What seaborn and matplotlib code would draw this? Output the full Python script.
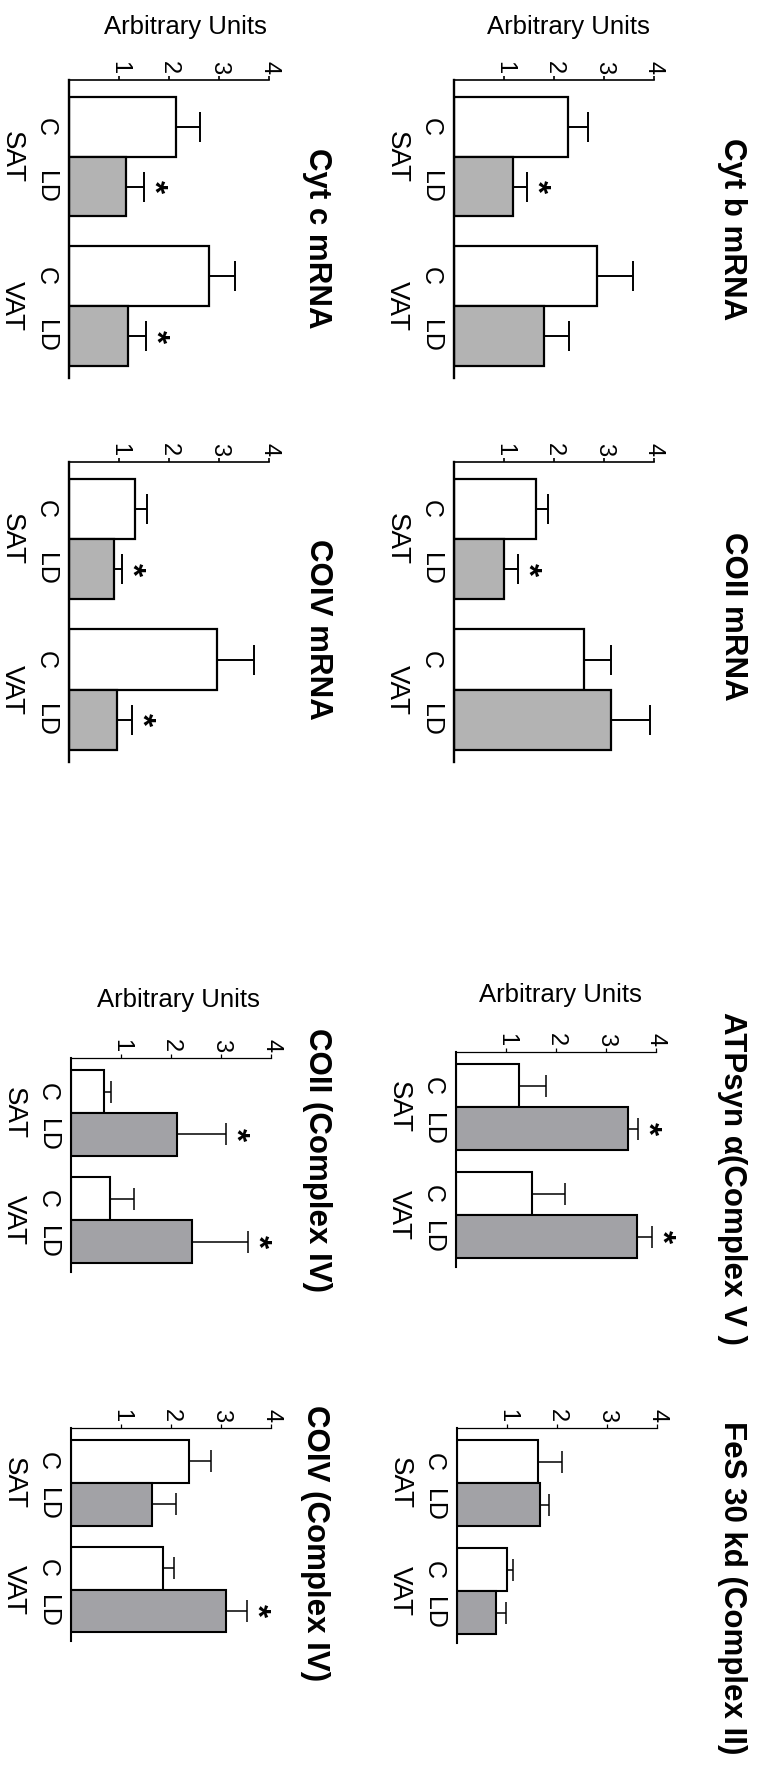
import numpy as np
import pandas as pd
import matplotlib
matplotlib.use("Agg")
import matplotlib.pyplot as plt
import matplotlib.transforms as mtransforms
import seaborn as sns

# ---------------- data ----------------
conditions = ["C", "LD", "C", "LD"]
depots = ["SAT", "VAT"]
tick_values = [1, 2, 3, 4]
tick_labels = ["1", "2", "3", "4"]
ylabel_text = "Arbitrary Units"

cytb_vals = [2.28, 1.17, 2.86, 1.80]
cytb_err = [0.40, 0.29, 0.72, 0.50]
cytb_star = [0, 1, 0, 0]

cytc_vals = [2.14, 1.14, 2.80, 1.18]
cytc_err = [0.48, 0.36, 0.52, 0.36]
cytc_star = [0, 1, 0, 1]

coii_mrna_vals = [1.64, 1.00, 2.60, 3.14]
coii_mrna_err = [0.24, 0.28, 0.54, 0.78]
coii_mrna_star = [0, 1, 0, 0]

coiv_mrna_vals = [1.32, 0.90, 2.96, 0.96]
coiv_mrna_err = [0.24, 0.16, 0.74, 0.30]
coiv_mrna_star = [0, 1, 0, 1]

atp_vals = [1.26, 3.44, 1.52, 3.62]
atp_err = [0.54, 0.20, 0.66, 0.30]
atp_star = [0, 1, 0, 1]

fes_vals = [1.62, 1.66, 1.00, 0.78]
fes_err = [0.48, 0.18, 0.12, 0.20]
fes_star = [0, 0, 0, 0]

coii_prot_vals = [0.66, 2.12, 0.78, 2.42]
coii_prot_err = [0.14, 0.98, 0.48, 1.12]
coii_prot_star = [0, 1, 0, 1]

coiv_prot_vals = [2.36, 1.62, 1.84, 3.10]
coiv_prot_err = [0.44, 0.48, 0.22, 0.42]
coiv_prot_star = [0, 0, 0, 1]

titles = ["Cyt b mRNA", "Cyt c mRNA", "COII mRNA", "COIV mRNA",
          "ATPsyn α(Complex V )", "FeS 30 kd (Complex II)",
          "COII (Complex IV)", "COIV (Complex IV)"]

# ---------------- style ----------------
sns.set_style("ticks")
plt.rcParams["font.family"] = ["Liberation Sans", "DejaVu Sans"]
plt.rcParams["text.color"] = "black"
plt.rcParams["xtick.color"] = "black"
plt.rcParams["ytick.color"] = "black"
plt.rcParams["axes.edgecolor"] = "black"
plt.rcParams["axes.labelcolor"] = "black"

W, H = 760, 1773
fig = plt.figure(figsize=(W / 100, H / 100), dpi=100)
fig.patch.set_facecolor("white")

positions = [0.0, 1.0, 2.5, 3.5]
group_centers = [0.5, 3.0]

# layout in pixels: axes box (x0, y0, y1), title centre, ylabel centre, kind
panels = [
    dict(v=cytb_vals, e=cytb_err, s=cytb_star, t=titles[0], box=(454, 80, 378),
         tc=(732, 229), yl=(568, 27), kind="mrna"),
    dict(v=cytc_vals, e=cytc_err, s=cytc_star, t=titles[1], box=(69, 80, 378),
         tc=(317, 238), yl=(185, 27), kind="mrna"),
    dict(v=coii_mrna_vals, e=coii_mrna_err, s=coii_mrna_star, t=titles[2], box=(454, 462, 762),
         tc=(733, 616), yl=None, kind="mrna"),
    dict(v=coiv_mrna_vals, e=coiv_mrna_err, s=coiv_mrna_star, t=titles[3], box=(69, 462, 762),
         tc=(318, 629), yl=None, kind="mrna"),
    dict(v=atp_vals, e=atp_err, s=atp_star, t=titles[4], box=(456, 1052, 1267),
         tc=(732, 1178), yl=(560, 995), kind="prot"),
    dict(v=fes_vals, e=fes_err, s=fes_star, t=titles[5], box=(457, 1428, 1643),
         tc=(732, 1588), yl=None, kind="prot"),
    dict(v=coii_prot_vals, e=coii_prot_err, s=coii_prot_star, t=titles[6], box=(71, 1058, 1272),
         tc=(317, 1160), yl=(178, 1000), kind="prot"),
    dict(v=coiv_prot_vals, e=coiv_prot_err, s=coiv_prot_star, t=titles[7], box=(71, 1428, 1641),
         tc=(315, 1543), yl=None, kind="prot"),
]

styles = {
    "mrna": dict(grey="#b3b3b3", edge=1.6, lspine=1.7, tspine=1.2, eb=1.4, cap=10.5),
    "prot": dict(grey="#a2a2a6", edge=1.5, lspine=1.5, tspine=0.9, eb=1.1, cap=8.0),
}

for p in panels:
    st = styles[p["kind"]]
    x0, y0, y1 = p["box"]
    ax = fig.add_axes([x0 / W, 1 - y1 / H, 200 / W, (y1 - y0) / H])
    df = pd.DataFrame({"pos": positions, "value": p["v"], "cond": conditions})
    sns.barplot(data=df, x="value", y="pos", hue="cond", orient="h",
                native_scale=True, width=1.0, dodge=False, errorbar=None,
                palette={"C": "white", "LD": st["grey"]}, edgecolor="black",
                linewidth=st["edge"], saturation=1, legend=False, ax=ax)
    err = np.array(p["e"])
    ax.errorbar(p["v"], positions, xerr=[np.zeros_like(err), err], fmt="none",
                ecolor="black", elinewidth=st["eb"], capsize=st["cap"],
                capthick=st["eb"], zorder=3)
    # significance stars
    for val, e, pos, s in zip(p["v"], p["e"], positions, p["s"]):
        if s:
            ax.text(val + e + 0.17, pos, "*", rotation=-90, ha="center", va="center",
                    fontsize=24, fontweight="bold", color="black")
    ax.set_xlim(0, 4)
    ax.set_ylim(4.2, -0.78)
    ax.set_xlabel("")
    ax.set_ylabel("")
    ax.set_facecolor("none")
    for side in ["right", "bottom"]:
        ax.spines[side].set_visible(False)
    ax.spines["left"].set_linewidth(st["lspine"])
    ax.spines["top"].set_linewidth(st["tspine"])
    ax.xaxis.tick_top()
    ax.set_xticks(tick_values)
    ax.set_xticklabels(tick_labels)
    ax.tick_params(axis="x", direction="out", length=3, width=st["tspine"], pad=1,
                   labelsize=17, labelrotation=-90)
    ax.set_yticks(positions)
    ax.set_yticklabels(conditions)
    ax.tick_params(axis="y", length=0, pad=16.5, labelsize=18, labelrotation=-90)
    for lab in ax.get_yticklabels():
        lab.set_ha("center")
        lab.set_va("center")
    trans = mtransforms.blended_transform_factory(ax.transAxes, ax.transData)
    for gname, gc in zip(depots, group_centers):
        ax.text(-0.285, gc, gname, rotation=-90, ha="center", va="center",
                fontsize=20, transform=trans)
    # title
    fig.text(p["tc"][0] / W, 1 - p["tc"][1] / H, p["t"], rotation=-90,
             ha="center", va="center", fontsize=22.5, fontweight="bold")
    if p["yl"] is not None:
        fig.text(p["yl"][0] / W, 1 - p["yl"][1] / H, ylabel_text,
                 ha="center", va="center", fontsize=18.5)

fig.savefig("out.png", dpi=100, facecolor="white")
